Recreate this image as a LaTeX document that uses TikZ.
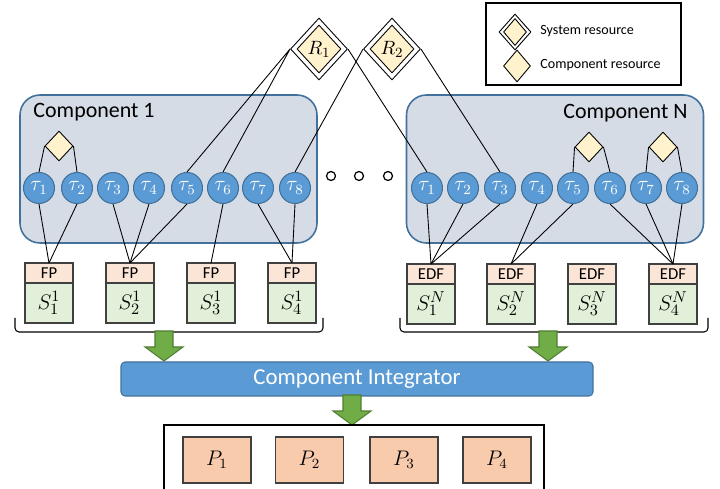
\documentclass[tikz,border=0pt]{standalone}
\usepackage{fontspec}
\setmainfont{Carlito}
\usetikzlibrary{shapes.geometric,positioning,calc}

\definecolor{compfill}{HTML}{D6DCE5}
\definecolor{compline}{HTML}{41719C}
\definecolor{taskfill}{HTML}{5B9BD5}
\definecolor{resfill}{HTML}{FFF2CC}
\definecolor{schedfill}{HTML}{FBE5D6}
\definecolor{servfill}{HTML}{E2F0D9}
\definecolor{arrowfill}{HTML}{70AD47}
\definecolor{arrowline}{HTML}{507E32}
\definecolor{platfill}{HTML}{F8CBAD}
\definecolor{boxline}{HTML}{404040}

% one unit of the picture
\newcommand{\pu}{0.02cm}

\tikzset{
  component/.style={draw=compline,line width=0.9pt,fill=compfill,rounded corners=20*\pu,
    minimum width=297*\pu,minimum height=148*\pu},
  complabel/.style={font=\fontsize{12.5}{14}\selectfont},
  task/.style={circle,draw=compline,line width=0.6pt,fill=taskfill,text=white,
    minimum size=31*\pu,font=\fontsize{11.5}{11}\selectfont},
  localres/.style={diamond,draw,fill=resfill,minimum width=28*\pu,minimum height=30*\pu},
  globalres/.style={diamond,draw,fill=white,minimum width=57*\pu,minimum height=62*\pu},
  globalin/.style={diamond,draw,fill=resfill,minimum width=44*\pu,minimum height=48*\pu,
    font=\fontsize{11}{11}\selectfont},
  sched/.style={draw=boxline,line width=0.7pt,fill=schedfill,outer sep=0pt,
    minimum width=48*\pu,minimum height=20*\pu,font=\fontsize{9.5}{10}\selectfont},
  server/.style={draw=boxline,line width=0.7pt,fill=servfill,outer sep=0pt,
    minimum width=48*\pu,minimum height=40*\pu,font=\fontsize{12.5}{13}\selectfont},
  integrator/.style={draw=compline,line width=0.6pt,fill=taskfill,text=white,rounded corners=4*\pu,
    minimum width=472*\pu,minimum height=34*\pu,font=\fontsize{13}{14}\selectfont},
  proc/.style={draw=boxline,line width=0.7pt,fill=platfill,
    minimum width=68*\pu,minimum height=46*\pu,font=\fontsize{12}{13}\selectfont},
  dot/.style={circle,draw,line width=0.7pt,minimum size=9*\pu},
  bracket/.style={line width=0.6pt,rounded corners=4*\pu},
  legendtext/.style={anchor=west,font=\fontsize{8}{9}\selectfont},
  pics/bigarrow/.style={code={
    \draw[draw=arrowline,fill=arrowfill,line width=0.6pt]
      (-9,0) -- (-9,16) -- (-19,16) -- (0,30) -- (19,16) -- (9,16) -- (9,0) -- cycle;}}
}

\begin{document}
\begin{tikzpicture}[x=0.02cm,y=-0.02cm,line width=0.5pt,every node/.style={inner sep=0pt}]
  \useasboundingbox (0,0) rectangle (720,489);

  % the two components
  \node[component] (comp1) at (168.5,169) {};
  \node[component] (compn) at (555,169) {};
  \node[complabel,anchor=west] (lab1) at (33,112) {Component 1};
  \node[complabel,anchor=east] (labn) at (688,113) {Component N};

  % tasks
  \foreach \i/\x in {1/39,2/77,3/113,4/149,5/187,6/223,7/258,8/295}
    \node[task] (c1t\i) at (\x,188) {$\tau_{\i}$};
  \foreach \i/\x in {1/427,2/463,3/500,4/537,5/573,6/610,7/646,8/682}
    \node[task] (cnt\i) at (\x,188) {$\tau_{\i}$};

  \foreach \x [count=\i] in {331,359,388}
    \node[dot] (d\i) at (\x,176) {};

  % component resources
  \node[localres] (lr1) at (59,146) {};
  \node[localres] (lrn1) at (589,147) {};
  \node[localres] (lrn2) at (663,147) {};
  \draw (lr1.west) -- (c1t1.north) (lr1.east) -- (c1t2.north);
  \draw (lrn1.west) -- (cnt5.north) (lrn1.east) -- (cnt6.north);
  \draw (lrn2.west) -- (cnt7.north) (lrn2.east) -- (cnt8.north);

  % system resources
  \node[globalres] (R1) at (319,49) {};
  \node[globalin] (R1in) at (R1) {$R_1$};
  \node[globalres] (R2) at (392,49) {};
  \node[globalin] (R2in) at (R2) {$R_2$};
  \draw (R1.west) -- (c1t5.north) (R1.west) -- (c1t6.north) (R1.east) -- (cnt1.north);
  \draw (R2.west) -- (c1t8.north) (R2.east) -- (cnt3.north);

  % local schedulers
  \foreach \i/\x in {1/49,2/130,3/211,4/292} {
    \node[sched] (fp\i) at (\x,273) {FP};
    \node[server,below=0pt of fp\i] (s1\i) {$S^1_{\i}$};
  }
  \foreach \i/\x in {1/431,2/511,3/592,4/673} {
    \node[sched] (edf\i) at (\x,274) {EDF};
    \node[server,below=0pt of edf\i] (sn\i) {$S^N_{\i}$};
  }

  \foreach \t/\s in {1/1,2/1,3/2,4/2,5/2,6/3,7/4,8/4}
    \draw (c1t\t.south) -- (fp\s.north);
  \foreach \t/\s in {1/1,2/1,3/1,4/2,5/2,6/4,7/4,8/4}
    \draw (cnt\t.south) -- (edf\s.north);

  \draw[bracket] (15,318) -- (15,332) -- (323,332) -- (323,318);
  \draw[bracket] (400,318) -- (400,332) -- (708,332) -- (708,318);

  % integration
  \pic at (164,331) {bigarrow};
  \pic at (548,331) {bigarrow};
  \node[integrator] (integ) at (357,379) {Component Integrator};
  \pic at (352,395) {bigarrow};

  % platform
  \draw[line width=0.7pt] (164,489) |- (544,425) -- (544,489);
  \foreach \i/\x in {1/217,2/309.5,3/404,4/497}
    \node[proc] (p\i) at (\x,460) {$P_{\i}$};

  % legend
  \node[draw,line width=0.7pt,minimum width=195*\pu,minimum height=82*\pu] (legend) at (583.5,44) {};
  \node[globalres,minimum width=32*\pu,minimum height=36*\pu] (lg1) at (515,32) {};
  \node[diamond,draw,fill=resfill,minimum width=23*\pu,minimum height=27*\pu] at (lg1) {};
  \node[localres,minimum width=27*\pu,minimum height=32*\pu] (lg2) at (517,66) {};
  \node[legendtext] at (540,31) {System resource};
  \node[legendtext] at (540,65) {Component resource};
\end{tikzpicture}
\end{document}
